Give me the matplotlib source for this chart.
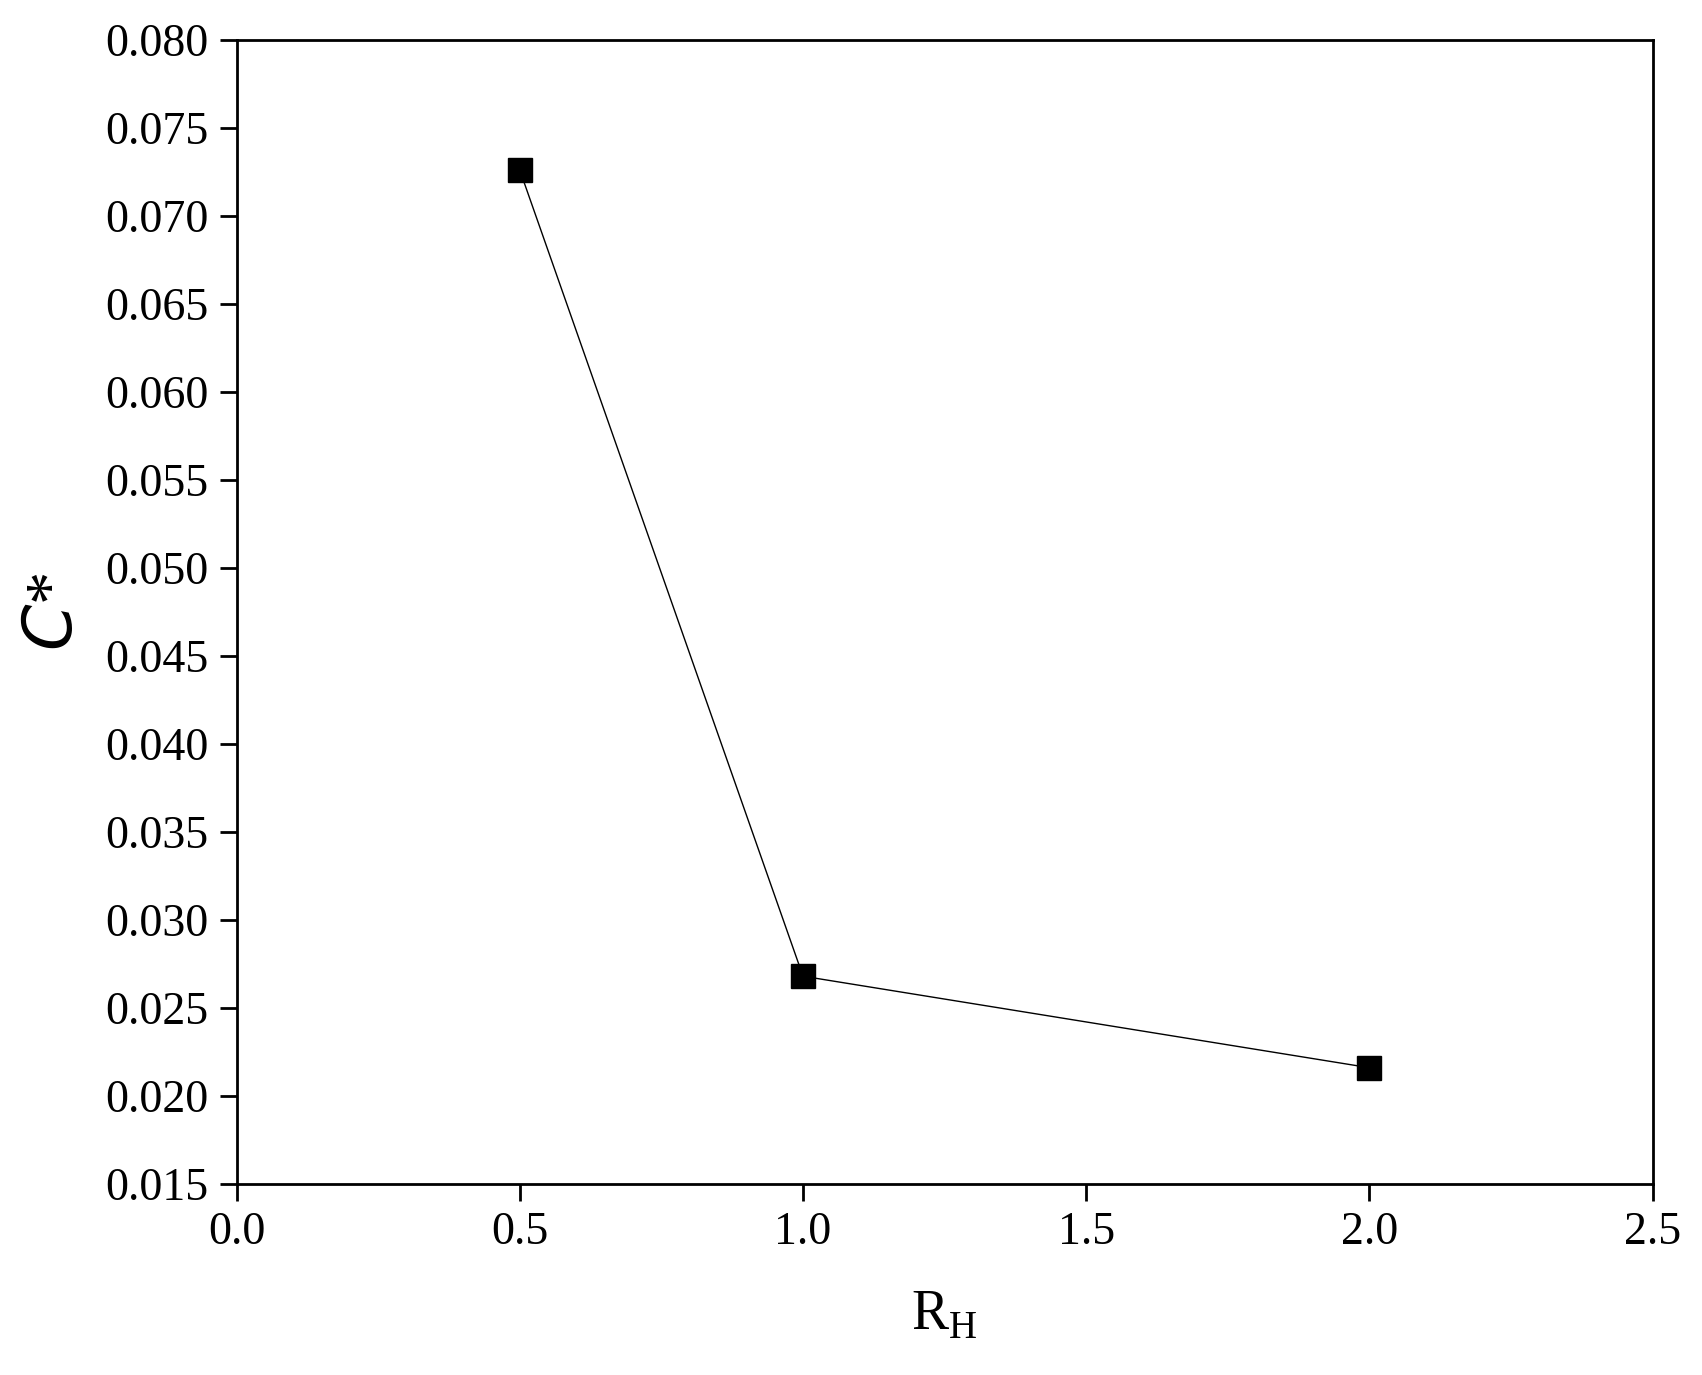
import matplotlib
matplotlib.use("Agg")
import matplotlib.pyplot as plt

x = [0.5, 1.0, 2.0]
y = [0.0726, 0.0268, 0.0216]
xticks = [0.0, 0.5, 1.0, 1.5, 2.0, 2.5]
yticks = [0.015, 0.020, 0.025, 0.030, 0.035, 0.040, 0.045, 0.050, 0.055, 0.060, 0.065, 0.070, 0.075, 0.080]

plt.rcParams['font.family'] = ['Liberation Serif', 'DejaVu Serif']
fig = plt.figure(figsize=(17.02, 13.75), dpi=100)
ax = fig.add_axes([0.139, 0.139, 0.832, 0.832])
ax.plot(x, y, color='black', lw=1, marker='s', ms=17, mfc='black', mec='black')
ax.set_xlim(0, 2.5)
ax.set_ylim(0.015, 0.080)
ax.set_xticks(xticks)
ax.set_xticklabels([f"{v:.1f}" for v in xticks])
ax.set_yticks(yticks)
ax.set_yticklabels([f"{v:.3f}" for v in yticks])
ax.tick_params(direction='out', length=12, width=2, labelsize=33, pad=8)
for s in ax.spines.values():
    s.set_linewidth(2)
ax.set_xlabel(r'R$_\mathregular{H}$', fontsize=40, labelpad=25)
ax.set_ylabel(r'$\mathit{C}$*', fontsize=48, labelpad=14)
fig.savefig("out.png", dpi=100)
